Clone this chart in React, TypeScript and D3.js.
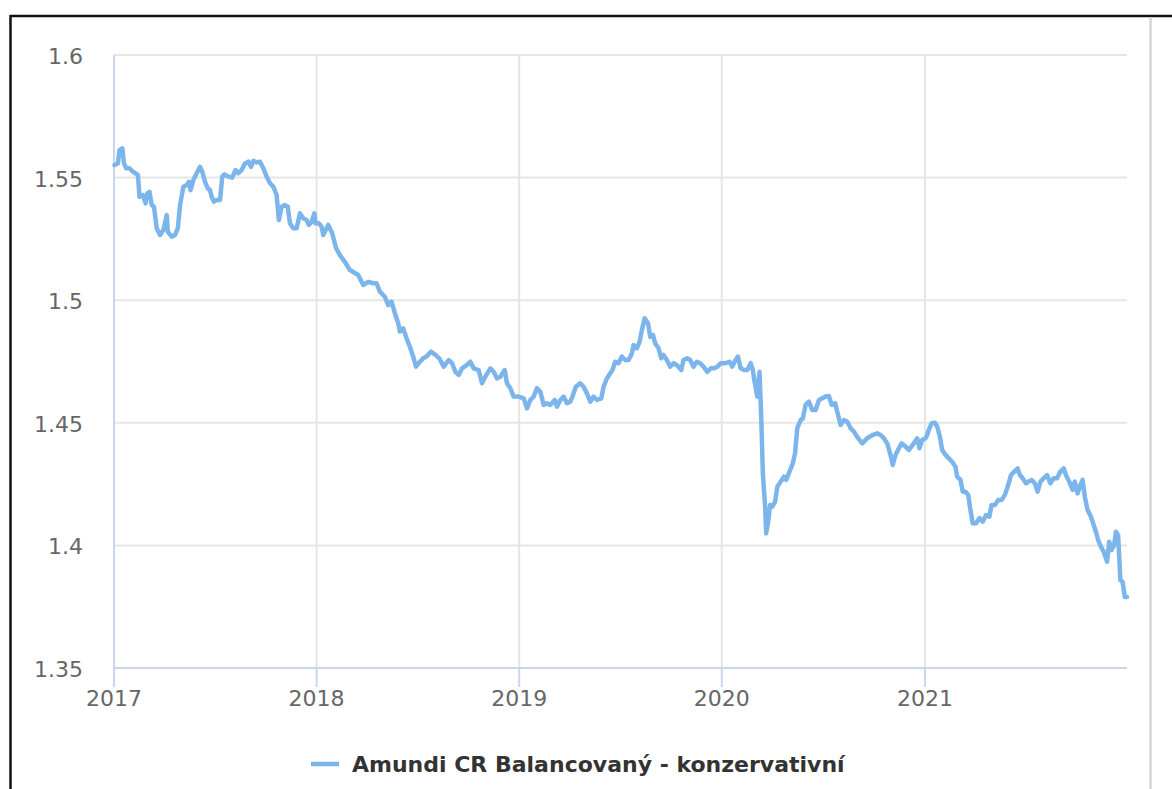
import * as d3 from 'd3';
import React from 'react';

// Series name shown in the legend.
const seriesName = 'Amundi CR Balancovaný - konzervativní';

const dates: string[] = [
    // 2017
    '2017-01-02', '2017-01-08', '2017-01-11', '2017-01-16', '2017-01-19', '2017-01-23', '2017-01-29',
    '2017-02-04', '2017-02-13', '2017-02-16', '2017-02-22', '2017-02-27', '2017-03-02', '2017-03-06',
    '2017-03-10', '2017-03-14', '2017-03-19', '2017-03-25', '2017-03-31', '2017-04-06', '2017-04-08',
    '2017-04-15', '2017-04-21', '2017-04-26', '2017-04-30', '2017-05-06', '2017-05-12', '2017-05-16',
    '2017-05-19', '2017-05-24', '2017-05-30', '2017-06-05', '2017-06-09', '2017-06-14', '2017-06-19',
    '2017-06-23', '2017-06-26', '2017-06-30', '2017-07-05', '2017-07-11', '2017-07-15', '2017-07-19',
    '2017-07-26', '2017-08-02', '2017-08-08', '2017-08-13', '2017-08-19', '2017-08-25', '2017-08-31',
    '2017-09-05', '2017-09-09', '2017-09-15', '2017-09-21', '2017-09-27', '2017-10-03', '2017-10-09',
    '2017-10-15', '2017-10-21', '2017-10-25', '2017-10-30', '2017-11-05', '2017-11-10', '2017-11-14',
    '2017-11-20', '2017-11-26', '2017-12-02', '2017-12-08', '2017-12-14', '2017-12-18', '2017-12-23',
    '2017-12-28', '2017-12-30',
    // 2018
    '2018-01-05', '2018-01-10', '2018-01-13', '2018-01-22', '2018-01-29', '2018-02-05', '2018-02-12',
    '2018-02-21', '2018-03-02', '2018-03-17', '2018-03-26', '2018-04-04', '2018-04-13', '2018-04-19',
    '2018-04-25', '2018-05-04', '2018-05-10', '2018-05-16', '2018-05-22', '2018-05-28', '2018-05-31',
    '2018-06-06', '2018-06-12', '2018-06-18', '2018-06-24', '2018-06-29', '2018-07-06', '2018-07-12',
    '2018-07-18', '2018-07-26', '2018-08-03', '2018-08-10', '2018-08-18', '2018-08-27', '2018-09-02',
    '2018-09-08', '2018-09-14', '2018-09-20', '2018-09-29', '2018-10-05', '2018-10-11', '2018-10-20',
    '2018-10-26', '2018-11-01', '2018-11-10', '2018-11-16', '2018-11-22', '2018-11-28', '2018-12-06',
    '2018-12-10', '2018-12-16', '2018-12-22', '2018-12-31',
    // 2019
    '2019-01-09', '2019-01-15', '2019-01-21', '2019-01-27', '2019-02-02', '2019-02-08', '2019-02-14',
    '2019-02-20', '2019-02-26', '2019-03-06', '2019-03-10', '2019-03-16', '2019-03-22', '2019-03-28',
    '2019-04-03', '2019-04-07', '2019-04-13', '2019-04-21', '2019-04-27', '2019-05-03', '2019-05-09',
    '2019-05-15', '2019-05-21', '2019-05-29', '2019-06-02', '2019-06-08', '2019-06-14', '2019-06-18',
    '2019-06-23', '2019-06-29', '2019-07-05', '2019-07-11', '2019-07-17', '2019-07-23', '2019-07-26',
    '2019-08-01', '2019-08-06', '2019-08-10', '2019-08-15', '2019-08-21', '2019-08-25', '2019-08-30',
    '2019-09-03', '2019-09-09', '2019-09-14', '2019-09-18', '2019-09-24', '2019-09-30', '2019-10-06',
    '2019-10-12', '2019-10-20', '2019-10-24', '2019-10-31', '2019-11-05', '2019-11-11', '2019-11-17',
    '2019-11-23', '2019-11-29', '2019-12-06', '2019-12-12', '2019-12-18', '2019-12-24', '2019-12-30',
    // 2020
    '2020-01-08', '2020-01-15', '2020-01-20', '2020-01-24', '2020-01-30', '2020-02-04', '2020-02-10',
    '2020-02-16', '2020-02-22', '2020-02-26', '2020-02-29', '2020-03-05', '2020-03-09', '2020-03-12',
    '2020-03-15', '2020-03-19', '2020-03-21', '2020-03-25', '2020-03-28', '2020-04-01', '2020-04-06',
    '2020-04-10', '2020-04-16', '2020-04-22', '2020-04-26', '2020-05-02', '2020-05-08', '2020-05-12',
    '2020-05-16', '2020-05-22', '2020-05-26', '2020-05-31', '2020-06-06', '2020-06-12', '2020-06-18',
    '2020-06-24', '2020-06-30', '2020-07-06', '2020-07-12', '2020-07-17', '2020-07-23', '2020-07-27',
    '2020-08-02', '2020-08-08', '2020-08-14', '2020-08-20', '2020-08-26', '2020-09-01', '2020-09-10',
    '2020-09-19', '2020-09-28', '2020-10-07', '2020-10-13', '2020-10-19', '2020-10-25', '2020-10-31',
    '2020-11-04', '2020-11-09', '2020-11-15', '2020-11-20', '2020-11-27', '2020-12-03', '2020-12-10',
    '2020-12-18', '2020-12-22', '2020-12-27',
    // 2021
    '2021-01-02', '2021-01-05', '2021-01-08', '2021-01-13', '2021-01-19', '2021-01-23', '2021-01-28',
    '2021-02-01', '2021-02-07', '2021-02-13', '2021-02-19', '2021-02-25', '2021-02-28', '2021-03-06',
    '2021-03-10', '2021-03-15', '2021-03-20', '2021-03-23', '2021-03-28', '2021-04-03', '2021-04-09',
    '2021-04-15', '2021-04-21', '2021-04-27', '2021-05-01', '2021-05-07', '2021-05-13', '2021-05-19',
    '2021-05-25', '2021-05-31', '2021-06-05', '2021-06-11', '2021-06-17', '2021-06-21', '2021-06-26',
    '2021-07-02', '2021-07-06', '2021-07-12', '2021-07-18', '2021-07-23', '2021-07-28', '2021-08-03',
    '2021-08-09', '2021-08-15', '2021-08-21', '2021-08-27', '2021-09-02', '2021-09-08', '2021-09-12',
    '2021-09-18', '2021-09-24', '2021-09-28', '2021-10-03', '2021-10-08', '2021-10-12', '2021-10-16',
    '2021-10-21', '2021-10-27', '2021-11-01', '2021-11-05', '2021-11-09', '2021-11-14', '2021-11-19',
    '2021-11-25', '2021-11-29', '2021-12-03', '2021-12-08', '2021-12-11', '2021-12-15', '2021-12-19',
    '2021-12-23', '2021-12-27', '2021-12-31',
];

// Fund value for each date.
const values: number[] = [
    // 2017
    1.5551, 1.5558, 1.5613, 1.5619, 1.5558, 1.5538, 1.5538,
    1.5524, 1.5511, 1.5422, 1.5429, 1.5395, 1.5436, 1.5442,
    1.5388, 1.5381, 1.5293, 1.5266, 1.5286, 1.5347, 1.5279,
    1.5259, 1.5266, 1.5293, 1.5388, 1.5463, 1.547, 1.5483,
    1.5449, 1.549, 1.5518, 1.5544, 1.5524, 1.5483, 1.5456,
    1.5449, 1.5422, 1.5402, 1.5409, 1.5409, 1.5504, 1.5513,
    1.5504, 1.55, 1.5531, 1.5518, 1.5531, 1.5558, 1.5565,
    1.5544, 1.5568, 1.5562, 1.5565, 1.5538, 1.5504, 1.5477,
    1.5463, 1.5429, 1.5327, 1.5381, 1.5388, 1.5381, 1.5314,
    1.5293, 1.5293, 1.5354, 1.5334, 1.5327, 1.5307, 1.532,
    1.5354, 1.5314,
    // 2018
    1.5314, 1.53, 1.5266, 1.5307, 1.5274, 1.5213, 1.5184,
    1.5156, 1.5123, 1.5103, 1.5062, 1.5075, 1.5069, 1.5069,
    1.5035, 1.5014, 1.498, 1.4994, 1.4947, 1.4906, 1.4872,
    1.4885, 1.4845, 1.481, 1.477, 1.4729, 1.4749, 1.4763,
    1.477, 1.479, 1.4777, 1.4763, 1.4729, 1.4756, 1.4743,
    1.4708, 1.4695, 1.4722, 1.4736, 1.4749, 1.4722, 1.4715,
    1.4661, 1.4688, 1.4722, 1.4708, 1.4681, 1.4688, 1.4715,
    1.4661, 1.4641, 1.4607, 1.4607,
    // 2019
    1.46, 1.4559, 1.4593, 1.4607, 1.4641, 1.4627, 1.4573,
    1.458, 1.4573, 1.4593, 1.4566, 1.4593, 1.4607, 1.458,
    1.4586, 1.4607, 1.4647, 1.4661, 1.4647, 1.462, 1.4586,
    1.4607, 1.4593, 1.46, 1.4647, 1.4681, 1.4702, 1.4715,
    1.4749, 1.4743, 1.477, 1.4756, 1.4756, 1.4783, 1.4817,
    1.4804, 1.4831, 1.4878, 1.4926, 1.4906, 1.4851, 1.4858,
    1.4824, 1.4804, 1.4763, 1.4777, 1.4756, 1.4729, 1.4743,
    1.4736, 1.4715, 1.4756, 1.4763, 1.4756, 1.4729, 1.4749,
    1.4743, 1.4729, 1.4708, 1.4722, 1.4722, 1.4729, 1.4743,
    // 2020
    1.4743, 1.4749, 1.4729, 1.4749, 1.477, 1.4722, 1.4715,
    1.4715, 1.4743, 1.4715, 1.4668, 1.4607, 1.4708, 1.4525,
    1.4294, 1.4158, 1.4049, 1.4104, 1.4165, 1.4158, 1.4178,
    1.4239, 1.426, 1.428, 1.4267, 1.4301, 1.4335, 1.4376,
    1.4478, 1.4511, 1.4518, 1.4573, 1.4586, 1.4552, 1.4552,
    1.4593, 1.46, 1.4607, 1.4609, 1.4573, 1.458, 1.4545,
    1.4491, 1.4511, 1.4504, 1.4478, 1.4464, 1.4443, 1.4416,
    1.4437, 1.445, 1.4457, 1.445, 1.4437, 1.4416, 1.4369,
    1.4328, 1.4369, 1.4396, 1.4416, 1.4403, 1.4389, 1.441,
    1.4437, 1.4396, 1.443,
    // 2021
    1.4437, 1.445, 1.4471, 1.4498, 1.45, 1.4484, 1.4443,
    1.4389, 1.4369, 1.4355, 1.4341, 1.4321, 1.428, 1.4267,
    1.4219, 1.4219, 1.4206, 1.4158, 1.409, 1.409, 1.4111,
    1.4097, 1.4124, 1.4117, 1.4165, 1.4165, 1.4185, 1.4185,
    1.4206, 1.4246, 1.4287, 1.4301, 1.4314, 1.4287, 1.4274,
    1.4253, 1.426, 1.4267, 1.4253, 1.4219, 1.426, 1.4274,
    1.4287, 1.4253, 1.4274, 1.4274, 1.4301, 1.4314, 1.4287,
    1.426, 1.4226, 1.426, 1.4212, 1.4246, 1.4267, 1.4199,
    1.4144, 1.4117, 1.4083, 1.4056, 1.4022, 1.3995, 1.3974,
    1.3934, 1.4015, 1.3981, 1.4002, 1.4056, 1.4042, 1.3859,
    1.3852, 1.379, 1.379,
];

// Axis ticks.
const yTicks: number[] = [1.35, 1.4, 1.45, 1.5, 1.55, 1.6];
const yearTicks: number[] = [2017, 2018, 2019, 2020, 2021];

const App = (): React.ReactElement => {
    const width = 1172;
    const height = 789;
    const left = 114;
    const right = 1127;
    const top = 55;
    const bottom = 668;

    const chartRef = React.useRef<SVGSVGElement>(null);

    React.useEffect(() => {
        const parse = d3.timeParse('%Y-%m-%d');
        const points = dates.map((d, i) => ({ date: parse(d) as Date, value: values[i] }));

        const xScale = d3
            .scaleTime()
            .domain([new Date(2017, 0, 1), new Date(2021, 11, 31)])
            .range([left, right]);
        const yScale = d3.scaleLinear().domain([1.35, 1.6]).range([bottom, top]);

        const svg = d3.select(chartRef.current);
        svg.selectAll('*').remove();

        svg.append('rect').attr('width', width).attr('height', height).attr('fill', '#ffffff');

        // Outer frame of the screenshot.
        svg.append('line')
            .attr('x1', 10).attr('x2', width).attr('y1', 16).attr('y2', 16)
            .attr('stroke', '#111').attr('stroke-width', 2.5);
        svg.append('line')
            .attr('x1', 10.5).attr('x2', 10.5).attr('y1', 15).attr('y2', height)
            .attr('stroke', '#111').attr('stroke-width', 2.5);
        svg.append('line')
            .attr('x1', 1150.5).attr('x2', 1150.5).attr('y1', 17).attr('y2', height)
            .attr('stroke', '#d4d4d4').attr('stroke-width', 2.5);

        // Horizontal gridlines.
        svg.append('g')
            .selectAll('line')
            .data(yTicks.filter((t) => t !== 1.35))
            .enter()
            .append('line')
            .attr('x1', left).attr('x2', right)
            .attr('y1', (d) => yScale(d)).attr('y2', (d) => yScale(d))
            .attr('stroke', '#e6e6e6').attr('stroke-width', 2);

        // Vertical gridlines.
        svg.append('g')
            .selectAll('line')
            .data(yearTicks.slice(1))
            .enter()
            .append('line')
            .attr('x1', (d) => xScale(new Date(d, 0, 1))).attr('x2', (d) => xScale(new Date(d, 0, 1)))
            .attr('y1', top).attr('y2', bottom)
            .attr('stroke', '#e6e6e6').attr('stroke-width', 2);

        // Axis lines and ticks.
        svg.append('line')
            .attr('x1', left).attr('x2', left).attr('y1', top).attr('y2', bottom)
            .attr('stroke', '#ccd6eb').attr('stroke-width', 2);
        svg.append('line')
            .attr('x1', left - 1).attr('x2', right).attr('y1', bottom).attr('y2', bottom)
            .attr('stroke', '#ccd6eb').attr('stroke-width', 2);
        svg.append('g')
            .selectAll('line')
            .data(yearTicks)
            .enter()
            .append('line')
            .attr('x1', (d) => xScale(new Date(d, 0, 1))).attr('x2', (d) => xScale(new Date(d, 0, 1)))
            .attr('y1', bottom).attr('y2', bottom + 19)
            .attr('stroke', '#ccd6eb').attr('stroke-width', 2);

        // Tick labels.
        svg.append('g')
            .selectAll('text')
            .data(yTicks)
            .enter()
            .append('text')
            .attr('x', 83)
            .attr('y', (d) => yScale(d) + 9)
            .attr('text-anchor', 'end')
            .attr('font-family', 'DejaVu Sans, sans-serif')
            .attr('font-size', 22)
            .attr('fill', '#666666')
            .text((d) => String(d));
        svg.append('g')
            .selectAll('text')
            .data(yearTicks)
            .enter()
            .append('text')
            .attr('x', (d) => xScale(new Date(d, 0, 1)))
            .attr('y', 706)
            .attr('text-anchor', 'middle')
            .attr('font-family', 'DejaVu Sans, sans-serif')
            .attr('font-size', 22)
            .attr('fill', '#666666')
            .text((d) => String(d));

        // The series line.
        const line = d3
            .line<{ date: Date; value: number }>()
            .x((d) => xScale(d.date))
            .y((d) => yScale(d.value));
        svg.append('path')
            .datum(points)
            .attr('d', line)
            .attr('fill', 'none')
            .attr('stroke', '#7cb5ec')
            .attr('stroke-width', 4.5)
            .attr('stroke-linejoin', 'round')
            .attr('stroke-linecap', 'round');

        // Legend.
        svg.append('line')
            .attr('x1', 311).attr('x2', 339).attr('y1', 764).attr('y2', 764)
            .attr('stroke', '#7cb5ec').attr('stroke-width', 4.5);
        svg.append('text')
            .attr('x', 352)
            .attr('y', 772)
            .attr('font-family', 'DejaVu Sans, sans-serif')
            .attr('font-size', 22)
            .attr('font-weight', 'bold')
            .attr('fill', '#333333')
            .text(seriesName);
    }, [chartRef]);

    return (
        <div>
            <svg
                ref={chartRef}
                width={width}
                height={height}
                style={{ position: 'absolute', left: 0, top: 0, display: 'block' }}
            ></svg>
        </div>
    );
};

export default App;
